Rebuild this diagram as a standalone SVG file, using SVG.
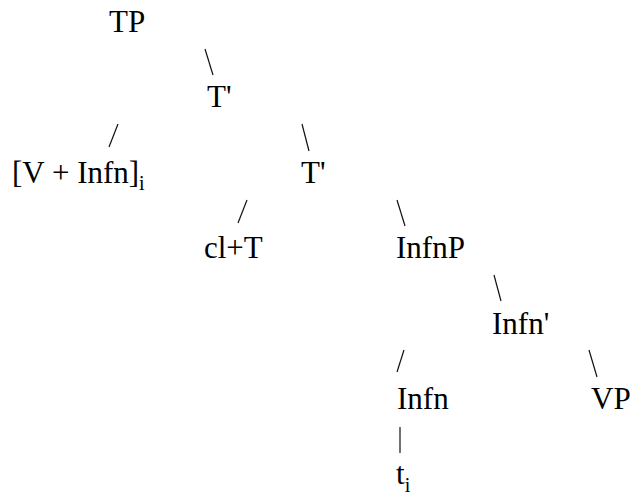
<svg xmlns="http://www.w3.org/2000/svg" width="631" height="495" viewBox="0 0 631 495">
<style>
text{font-family:"Liberation Serif","Times New Roman",serif;font-size:31px;fill:#000}
.sub{font-size:20px}
.c line{stroke:#111;stroke-width:1.2;stroke-linecap:butt}
</style>
<rect width="631" height="495" fill="#fff"/>
<g class="c" id="connectors">
<line x1="205" y1="49" x2="213" y2="75"/>
<line x1="118" y1="124" x2="109" y2="147"/>
<line x1="302" y1="124" x2="309" y2="151"/>
<line x1="247" y1="200" x2="238" y2="223"/>
<line x1="397" y1="200" x2="405" y2="226"/>
<line x1="494" y1="275" x2="501" y2="301"/>
<line x1="404" y1="350" x2="397" y2="372"/>
<line x1="589" y1="350" x2="597" y2="377"/>
<line x1="400" y1="427" x2="400" y2="453"/>
</g>
<g id="n-TP"><text x="109" y="32">TP</text></g>
<g id="n-T1"><text x="207" y="107">T'</text></g>
<g id="n-VInfn"><text x="12" y="183">[V + Infn]<tspan class="sub" dy="7">i</tspan></text></g>
<g id="n-T2"><text x="301" y="183">T'</text></g>
<g id="n-clT"><text x="204" y="258">cl+T</text></g>
<g id="n-InfnP"><text x="396" y="258">InfnP</text></g>
<g id="n-Infn1"><text x="492" y="334">Infn'</text></g>
<g id="n-Infn"><text x="397" y="409">Infn</text></g>
<g id="n-VP"><text x="591" y="409">VP</text></g>
<g id="n-t"><text x="396" y="484">t<tspan class="sub" dy="8">i</tspan></text></g>
</svg>
